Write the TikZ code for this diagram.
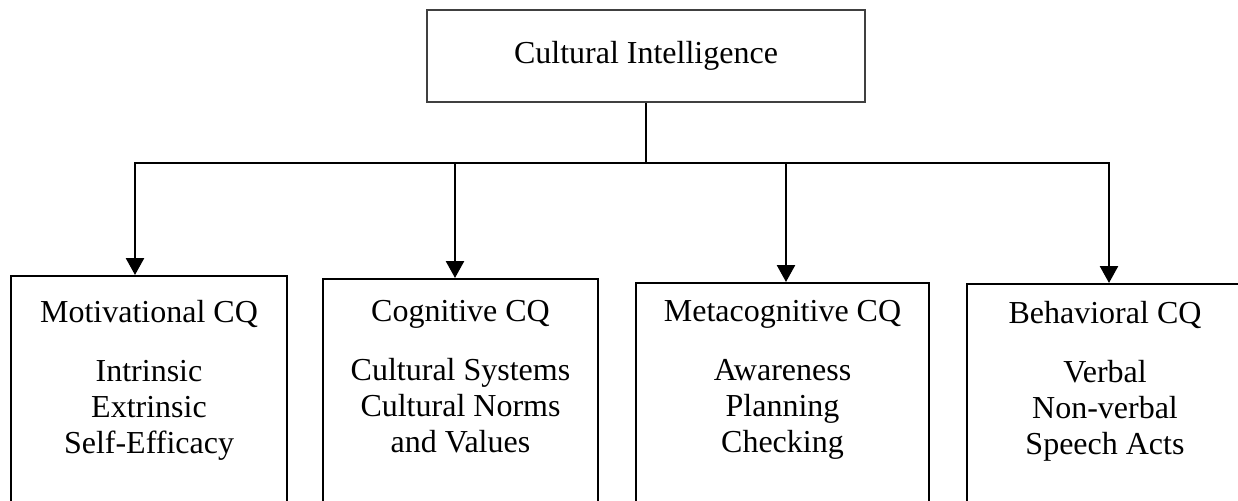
\documentclass[tikz,border=0pt]{standalone}
\usepackage{fontspec}
\setmainfont{Liberation Serif}
\usetikzlibrary{arrows.meta}

\begin{document}
\begin{tikzpicture}[x=0.5pt,y=-0.5pt,
  link/.style={line width=1.3pt},
  tip/.style={-{Triangle[length=8.5pt,width=9pt]}},
  catbox/.style={draw,line width=1pt,anchor=north,minimum height=130pt,inner sep=0pt},
  cattext/.style={anchor=north,align=center,inner sep=0pt,font=\fontsize{16}{18}\selectfont}]
\useasboundingbox (0,0) rectangle (1238,500);
\clip (0,0) rectangle (1238,500);

\node[draw=black!75,line width=1pt,minimum width=219pt,minimum height=46pt,font=\fontsize{16}{18}\selectfont] (ci) at (646,56) {Cultural Intelligence};

\node[catbox,minimum width=138pt] (motiv) at (149,275) {};
\node[catbox,minimum width=137.5pt] (cogn) at (460.5,278) {};
\node[catbox,minimum width=146.5pt] (meta) at (782.5,282) {};
\node[catbox,minimum width=138pt] (behav) at (1105,283) {};

\node[cattext] (motiv-txt) at (149,300) {Motivational CQ\\[11.5pt] Intrinsic\\ Extrinsic\\ Self-Efficacy};
\node[cattext] (cogn-txt) at (460.5,300) {Cognitive CQ\\[11.5pt] Cultural Systems\\ Cultural Norms\\ and Values};
\node[cattext] (meta-txt) at (782.5,300) {Metacognitive CQ\\[11.5pt] Awareness\\ Planning\\ Checking};
\node[cattext] (behav-txt) at (1105,301) {Behavioral CQ\\[11.5pt] Verbal\\ Non-verbal\\ Speech Acts};

\coordinate (d1) at (135,163);
\coordinate (d2) at (455,163);
\coordinate (d3) at (786,163);
\coordinate (d4) at (1109,163);

\draw[link] (ci.south) -- (ci.south |- d1);
\draw[link,line cap=rect] (d1) -- (d4);
\foreach \d/\b in {d1/motiv,d2/cogn,d3/meta,d4/behav}
  \draw[link,tip] (\d) -- (\d |- \b.north);

\end{tikzpicture}
\end{document}
